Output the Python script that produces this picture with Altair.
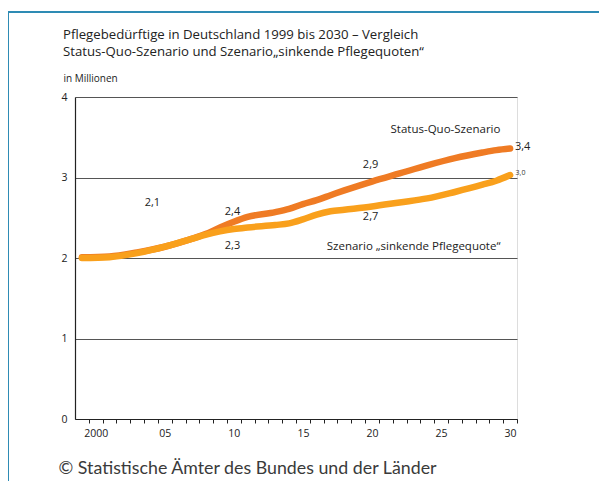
import altair as alt
import pandas as pd

# ---- data ----
years = [1999, 2001, 2003, 2005, 2007, 2008, 2009, 2010, 2011, 2013, 2014,
         2015, 2016, 2017, 2018, 2020, 2022, 2024, 2026, 2028, 2029, 2030]
status_quo = [2.01, 2.02, 2.07, 2.14, 2.24, 2.30, 2.38, 2.45, 2.51, 2.57, 2.61,
              2.67, 2.72, 2.78, 2.84, 2.95, 3.05, 3.15, 3.24, 3.31, 3.34, 3.36]
sinkend = [2.00, 2.01, 2.06, 2.14, 2.24, 2.29, 2.33, 2.36, 2.38, 2.41, 2.43,
           2.48, 2.54, 2.58, 2.60, 2.64, 2.69, 2.74, 2.82, 2.91, 2.96, 3.03]

value_labels = ["2,1", "2,4", "2,3", "2,9", "2,7"]
value_label_year = [2004.1, 2009.9, 2009.9, 2019.9, 2019.9]
value_label_pos = [2.68, 2.57, 2.15, 3.16, 2.51]

end_labels = ["3,4"]
end_label_year = [2030.35]
end_label_pos = [3.38]

small_labels = ["3,0"]
small_label_year = [2030.4]
small_label_pos = [3.05]

series_names = ["Status-Quo-Szenario", "Szenario \u201esinkende Pflegequote\u201c"]
series_name_year = [2029.3, 2029.3]
series_name_pos = [3.59, 2.14]

title_lines = ["Pflegebedürftige in Deutschland 1999 bis 2030 \u2013 Vergleich",
               "Status-Quo-Szenario und Szenario\u201esinkende Pflegequoten\u201c"]
unit_label = "in Millionen"
source_label = "\u00a9 Statistische \u00c4mter des Bundes und der L\u00e4nder"

DARK = "#ef7b24"
LIGHT = "#f9a01c"
FONT = "Open Sans"
W, H = 442, 322

df_sq = pd.DataFrame({"year": years, "value": status_quo})
df_sk = pd.DataFrame({"year": years, "value": sinkend})
df_vl = pd.DataFrame({"t": value_labels, "year": value_label_year, "value": value_label_pos})
df_el = pd.DataFrame({"t": end_labels, "year": end_label_year, "value": end_label_pos})
df_sl = pd.DataFrame({"t": small_labels, "year": small_label_year, "value": small_label_pos})
df_sn = pd.DataFrame({"t": series_names, "year": series_name_year, "value": series_name_pos})

band = W / 32.0
tick_vals = [y + 0.5 for y in range(1999, 2031)]

x_scale = alt.Scale(domain=[1998.5, 2030.5], nice=False, zero=False)
y_scale = alt.Scale(domain=[0, 4], nice=False)

x_axis = alt.Axis(
    values=tick_vals,
    labelExpr="(datum.value - 0.5) % 5 == 0 ? ((datum.value - 0.5) == 2000 ? '2000' : substring(toString(datum.value - 0.5), 2, 4)) : ''",
    labelOffset=-band / 2,
    labelFont=FONT, labelFontSize=10.5, labelColor="#222",
    labelPadding=5, tickSize=4, tickColor="#222", tickWidth=1, domainColor="#222",
    domainWidth=1.2, grid=False, labelFlush=False, labelOverlap=False, labelBound=False,
    title=source_label, titleFont="Lato", titleFontSize=17.8,
    titleFontWeight="normal", titleColor="#3a3a3a",
    titleAnchor="start", titleAlign="left", titleBaseline="alphabetic",
    titleX=-17, titleY=54,
)
y_axis = alt.Axis(
    values=[0, 1, 2, 3, 4], format="d", ticks=False,
    labelFont=FONT, labelFontSize=10.5, labelColor="#222", labelPadding=8,
    domainColor="#222", domainWidth=1.2,
    grid=True, gridColor="#555", gridWidth=1.1,
    title=unit_label, titleFont=FONT, titleFontSize=10, titleFontWeight="normal",
    titleColor="#222", titleAngle=0, titleAlign="left", titleBaseline="alphabetic",
    titleX=-12, titleY=-16,
)

x_enc = alt.X("year:Q", scale=x_scale, axis=x_axis)
y_enc = alt.Y("value:Q", scale=y_scale, axis=y_axis)

line_sq = alt.Chart(df_sq).mark_line(
    color=DARK, strokeWidth=6.5, strokeCap="round", interpolate="monotone"
).encode(x=x_enc, y=y_enc)

line_sk = alt.Chart(df_sk).mark_line(
    color=LIGHT, strokeWidth=6.5, strokeCap="round", interpolate="monotone"
).encode(x=x_enc, y=y_enc)

txt_vl = alt.Chart(df_vl).mark_text(
    font=FONT, fontSize=11, color="#222", align="center", baseline="middle"
).encode(x=x_enc, y=y_enc, text="t:N")

txt_el = alt.Chart(df_el).mark_text(
    font=FONT, fontSize=11, color="#222", align="left", baseline="middle"
).encode(x=x_enc, y=y_enc, text="t:N")

txt_sl = alt.Chart(df_sl).mark_text(
    font=FONT, fontSize=7, color="#333", align="left", baseline="middle"
).encode(x=x_enc, y=y_enc, text="t:N")

txt_sn = alt.Chart(df_sn).mark_text(
    font=FONT, fontSize=11.5, color="#222", align="right", baseline="middle"
).encode(x=x_enc, y=y_enc, text="t:N")

FRAME = "#2f8bb5"
frame_top = alt.Chart(df_sq).mark_rule(color=FRAME, strokeWidth=1.5, clip=False).encode(
    x=alt.value(-67), x2=alt.value(W + 90), y=alt.value(-85)
)
frame_left = alt.Chart(df_sq).mark_rule(color=FRAME, strokeWidth=1.5, clip=False).encode(
    x=alt.value(-67), y=alt.value(-85), y2=alt.value(H + 70)
)

chart = alt.layer(
    frame_top, frame_left, line_sq, line_sk, txt_vl, txt_el, txt_sl, txt_sn
).properties(
    width=W, height=H,
    autosize=alt.AutoSizeParams(type="none"),
    padding={"left": 67, "top": 89, "right": 82, "bottom": 62},
    title=alt.TitleParams(
        text=title_lines, anchor="start", frame="group", orient="top",
        font=FONT, fontSize=13.2, fontWeight="normal", color="#222",
        lineHeight=17, dx=-12, offset=0, dy=48,
    ),
).configure_view(stroke=None).configure(background="white")

chart.save("out.html", embed_options={"renderer": "svg", "actions": False})
